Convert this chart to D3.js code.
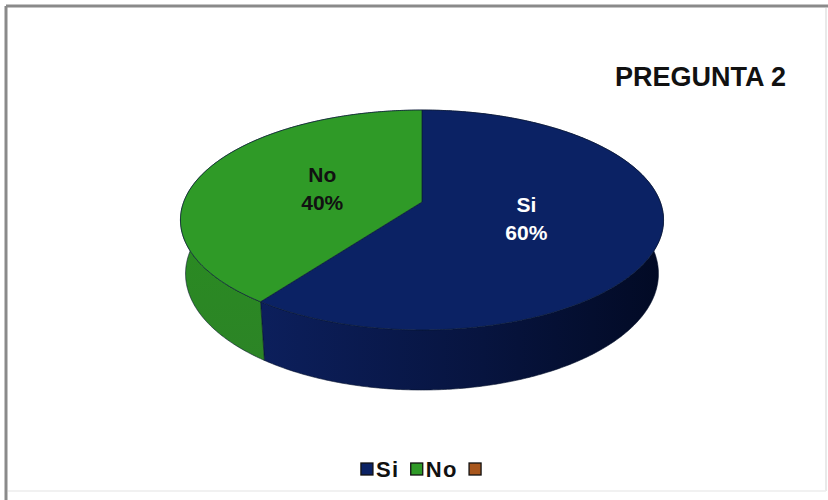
<!DOCTYPE html>
<html><head><meta charset="utf-8">
<script src="https://cdn.jsdelivr.net/npm/d3@7"></script>
<style>body{margin:0;background:#fff}svg{display:block}</style>
</head><body>
<svg id="chart" width="828" height="500"></svg>
<script>
const categories = ["Si", "No", ""];
const values = [60, 40, 0];
const percentLabels = ["60%", "40%", ""];
const chartTitle = "PREGUNTA 2";
const topColors = ["#0b2264", "#2f9a27", "#a8561c"];

const W = 828, H = 500;
const svg = d3.select("#chart");
const color = d3.scaleOrdinal().domain(categories).range(topColors);

// frame
svg.append("line").attr("x1", 6).attr("y1", 6).attr("x2", 828).attr("y2", 6).attr("stroke", "#8a8a8a").attr("stroke-width", 3);
svg.append("line").attr("x1", 6).attr("y1", 6).attr("x2", 6).attr("y2", 500).attr("stroke", "#8a8a8a").attr("stroke-width", 3);
svg.append("line").attr("x1", 826).attr("y1", 8).attr("x2", 826).attr("y2", 491).attr("stroke", "#e2e2e2").attr("stroke-width", 1.5);
svg.append("line").attr("x1", 8).attr("y1", 491).attr("x2", 826).attr("y2", 491).attr("stroke", "#ececec").attr("stroke-width", 1.5);

// perspective projection of a 3D disc
const P = {cx: 422, cy: 202, F: 1301, D0: 5.46, s: 0.449, c: 0.8935, Hh: 0.2545};
function proj(a, r, y) {
  const X = r * Math.sin(a), Z = -r * Math.cos(a);
  const depth = P.D0 - y * P.s - Z * P.c;
  return [P.cx + P.F * X / depth, P.cy + P.F * (Z * P.s - y * P.c) / depth];
}
function rimPoints(a0, a1, y) {
  const n = Math.max(2, Math.ceil((a1 - a0) / 0.01));
  return d3.range(n + 1).map(i => proj(a0 + (a1 - a0) * i / n, 1, y));
}

const pie = d3.pie().sort(null).value(d => d.v);
const data = categories.map((k, i) => ({k, v: values[i], lab: percentLabels[i]}));
const arcs = pie(data).filter(d => d.endAngle - d.startAngle > 1e-6);

const defs = svg.append("defs");
const g1 = defs.append("linearGradient").attr("id", "sideSi").attr("gradientUnits", "userSpaceOnUse")
  .attr("x1", 260).attr("y1", 0).attr("x2", 665).attr("y2", 0);
g1.append("stop").attr("offset", 0).attr("stop-color", "#0c1f5c");
g1.append("stop").attr("offset", 0.55).attr("stop-color", "#07143f");
g1.append("stop").attr("offset", 1).attr("stop-color", "#020a24");
const g2 = defs.append("linearGradient").attr("id", "sideNo").attr("gradientUnits", "userSpaceOnUse")
  .attr("x1", 0).attr("y1", 240).attr("x2", 0).attr("y2", 360);
g2.append("stop").attr("offset", 0).attr("stop-color", "#2a8a22");
g2.append("stop").attr("offset", 1).attr("stop-color", "#2c8426");
const sideFill = {"Si": "url(#sideSi)", "No": "url(#sideNo)", "": "#7a3e14"};

const line = d3.line();
// side walls
svg.append("g").selectAll("path").data(arcs).join("path")
  .attr("d", d => {
    const top = rimPoints(d.startAngle, d.endAngle, 0);
    const bot = rimPoints(d.startAngle, d.endAngle, -P.Hh).reverse();
    return line(top.concat(bot)) + "Z";
  })
  .attr("fill", d => sideFill[d.data.k])
  .attr("stroke", "#06122e").attr("stroke-width", 0.6);

// top faces
svg.append("g").selectAll("path").data(arcs).join("path")
  .attr("d", d => line([proj(0, 0, 0)].concat(rimPoints(d.startAngle, d.endAngle, 0))) + "Z")
  .attr("fill", d => color(d.data.k))
  .attr("stroke", "#0a1a3a").attr("stroke-width", 0.7).attr("stroke-linejoin", "round");

// labels
const lg = svg.append("g").attr("font-family", "Arial, 'Liberation Sans', sans-serif")
  .attr("font-weight", "bold").attr("font-size", 21).attr("text-anchor", "middle");
arcs.forEach(d => {
  const mid = (d.startAngle + d.endAngle) / 2;
  const [lx, ly] = proj(mid, 0.45, 0);
  const fill = d.data.k === "Si" ? "#ffffff" : "#111111";
  lg.append("text").attr("x", lx).attr("y", ly - 5).attr("fill", fill).text(d.data.k);
  lg.append("text").attr("x", lx).attr("y", ly + 23).attr("fill", fill).text(d.data.lab);
});

// title
svg.append("text").attr("x", 786).attr("y", 86).attr("text-anchor", "end")
  .attr("font-family", "Arial, 'Liberation Sans', sans-serif").attr("font-weight", "bold")
  .attr("font-size", 27).attr("fill", "#111").text(chartTitle);

// legend
const leg = svg.append("g").attr("font-family", "Arial, 'Liberation Sans', sans-serif")
  .attr("font-weight", "bold").attr("font-size", 22).attr("letter-spacing", 1.5).attr("fill", "#111");
let x = 0;
categories.forEach((k, i) => {
  const it = leg.append("g").attr("transform", `translate(${x},0)`);
  it.append("rect").attr("x", 0).attr("y", 463).attr("width", 12).attr("height", 12)
    .attr("fill", color(k)).attr("stroke", "#111").attr("stroke-width", 1.3);
  let w = 12;
  if (k) {
    const t = it.append("text").attr("x", 15).attr("y", 477).text(k);
    w = 15 + t.node().getComputedTextLength();
  }
  x += w + 11;
});
const lb = leg.node().getBBox();
leg.attr("transform", `translate(${421 - (lb.x + lb.width / 2)},0)`);
</script>
</body></html>
